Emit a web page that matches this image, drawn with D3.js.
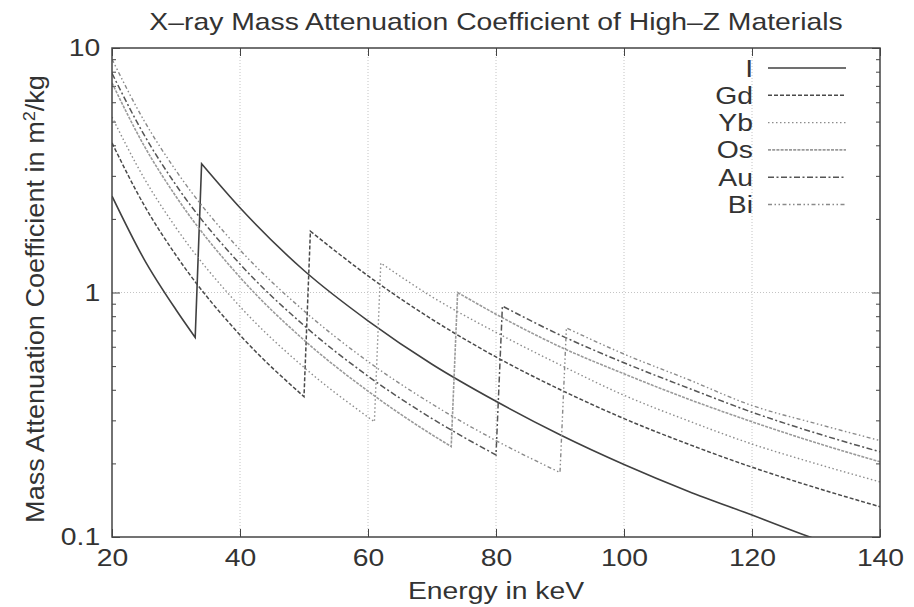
<!DOCTYPE html>
<html>
<head>
<meta charset="utf-8">
<script src="https://cdn.jsdelivr.net/npm/d3@7"></script>
<style>
  body { margin: 0; background: #fff; }
  svg text { font-family: "Liberation Sans", Arial, Helvetica, sans-serif; fill: #333; }
</style>
</head>
<body>
<div id="container"></div>
<script>
/* DATA (mass attenuation coefficient, m^2/kg) */
const elements = ["I", "Gd", "Yb", "Os", "Au", "Bi"];

const energyI = [20, 25, 30, 33, 34, 40, 50, 60, 70, 80, 90, 100, 110, 120, 130, 140];
const muI     = [2.48, 1.37, 0.85, 0.655, 3.36, 2.22, 1.23, 0.766, 0.509, 0.359, 0.262, 0.198, 0.154, 0.123, 0.098, 0.081];

const energyGd = [20, 25, 30, 40, 50, 51, 60, 70, 80, 90, 100, 110, 120, 130, 140];
const muGd     = [4.09, 2.28, 1.42, 0.670, 0.375, 1.78, 1.17, 0.777, 0.545, 0.401, 0.305, 0.240, 0.193, 0.159, 0.133];

const energyYb = [20, 25, 30, 40, 50, 61, 62, 70, 80, 90, 100, 110, 120, 130, 140];
const muYb     = [5.22, 2.94, 1.84, 0.876, 0.494, 0.296, 1.32, 0.96, 0.687, 0.506, 0.38, 0.299, 0.24, 0.1995, 0.168];

const energyOs = [20, 25, 30, 40, 50, 60, 70, 73, 74, 80, 90, 100, 110, 120, 130, 140];
const muOs     = [7.2, 3.99, 2.47, 1.154, 0.639, 0.395, 0.262, 0.2345, 1.0, 0.815, 0.60, 0.465, 0.367, 0.296, 0.243, 0.203];

const energyAu = [20, 25, 30, 40, 50, 60, 70, 80, 81, 90, 100, 110, 120, 130, 140];
const muAu     = [7.88, 4.42, 2.75, 1.307, 0.733, 0.455, 0.305, 0.2165, 0.88, 0.67, 0.516, 0.407, 0.324, 0.266, 0.223];

const energyBi = [20, 25, 30, 40, 50, 60, 70, 80, 90, 91, 100, 110, 120, 130, 140];
const muBi     = [9.0, 5.05, 3.15, 1.494, 0.841, 0.522, 0.350, 0.248, 0.1836, 0.716, 0.56, 0.441, 0.345, 0.291, 0.248];

const xTicks = [20, 40, 60, 80, 100, 120, 140];
const yTicks = [0.1, 1, 10];
const yTickLabels = ["0.1", "1", "10"];

/* CONSTANTS AND GLOBALS */
const width = 914, height = 607;
const plotLeft = 112, plotRight = 880, plotTop = 48, plotBottom = 537;
const sx = 1.18;   // the reference text is a bit wider than Liberation Sans

const series = [
  {key: "I",  energy: energyI,  mu: muI,  color: "#404040", dash: null,                    w: 1.6},
  {key: "Gd", energy: energyGd, mu: muGd, color: "#4a4a4a", dash: "4,2",                  w: 1.5},
  {key: "Yb", energy: energyYb, mu: muYb, color: "#8c8c8c", dash: "1.5,2.5",              w: 1.4},
  {key: "Os", energy: energyOs, mu: muOs, color: "#9a9a9a", dash: "3,1.2",                w: 1.6},
  {key: "Au", energy: energyAu, mu: muAu, color: "#555555", dash: "6,2.5,2,2.5",          w: 1.5},
  {key: "Bi", energy: energyBi, mu: muBi, color: "#8a8a8a", dash: "4,2.5,1.5,2.5,1.5,2.5", w: 1.4}
];

const xScale = d3.scaleLinear().domain([20, 140]).range([plotLeft, plotRight]);
const yScale = d3.scaleLog().domain([0.1, 10]).range([plotBottom, plotTop]);

const svg = d3.select("#container")
  .append("svg")
  .attr("width", width)
  .attr("height", height);

svg.append("defs").append("clipPath")
  .attr("id", "plot")
  .append("rect")
  .attr("x", plotLeft).attr("y", plotTop)
  .attr("width", plotRight - plotLeft).attr("height", plotBottom - plotTop);

// + GRID
const grid = svg.append("g")
  .attr("stroke", "#c4c4c4")
  .attr("stroke-width", 1)
  .attr("stroke-dasharray", "1,2");
grid.selectAll(".gx")
  .data(xTicks.slice(1, -1))
  .join("line")
  .attr("x1", d => xScale(d)).attr("x2", d => xScale(d))
  .attr("y1", plotTop).attr("y2", plotBottom);
grid.append("line")
  .attr("x1", plotLeft).attr("x2", plotRight)
  .attr("y1", yScale(1)).attr("y2", yScale(1));

// + AXES (ticks point inward, like gnuplot)
const minorY = [];
[0.1, 1].forEach(dec => d3.range(2, 10).forEach(m => minorY.push(dec * m)));

const styleAxis = g => {
  g.select(".domain").remove();
  g.selectAll(".tick line").attr("stroke", "#444");
  g.selectAll("text")
    .style("font-size", "24px")
    .attr("fill", "#333");
};

svg.append("g")
  .attr("transform", `translate(0,${plotBottom})`)
  .call(d3.axisBottom(xScale).tickValues(xTicks).tickSize(-8).tickPadding(12))
  .call(styleAxis)
  .call(g => g.selectAll("text").attr("transform", `scale(${sx},1)`));

svg.append("g")
  .attr("transform", `translate(0,${plotTop})`)
  .call(d3.axisTop(xScale).tickValues(xTicks).tickSize(-8).tickFormat(""))
  .call(styleAxis);

svg.append("g")
  .attr("transform", `translate(${plotLeft},0)`)
  .call(d3.axisLeft(yScale).tickValues(yTicks).tickSize(-8).tickPadding(10)
    .tickFormat((d, i) => yTickLabels[i]))
  .call(styleAxis)
  .call(g => g.selectAll("text").attr("transform", `scale(${sx},1)`));

svg.append("g")
  .attr("transform", `translate(${plotLeft},0)`)
  .call(d3.axisLeft(yScale).tickValues(minorY).tickSize(-4).tickFormat(""))
  .call(styleAxis);

svg.append("g")
  .attr("transform", `translate(${plotRight},0)`)
  .call(d3.axisRight(yScale).tickValues(yTicks).tickSize(-8).tickFormat(""))
  .call(styleAxis);

svg.append("g")
  .attr("transform", `translate(${plotRight},0)`)
  .call(d3.axisRight(yScale).tickValues(minorY).tickSize(-4).tickFormat(""))
  .call(styleAxis);

// + CURVES
const line = d3.line()
  .x(d => xScale(d[0]))
  .y(d => yScale(d[1]))
  .curve(d3.curveMonotoneX);

// smooth on each side of the absorption edge, straight jump across it
const pathFor = s => {
  const pts = s.energy.map((e, i) => [e, s.mu[i]]);
  const k = pts.findIndex((p, i) => i > 0 && p[1] > pts[i - 1][1]);
  if (k < 0) return line(pts);
  return line(pts.slice(0, k)) + line(pts.slice(k)).replace(/^M/, "L");
};

svg.append("g")
  .attr("clip-path", "url(#plot)")
  .selectAll("path")
  .data(series)
  .join("path")
  .attr("fill", "none")
  .attr("stroke", d => d.color)
  .attr("stroke-width", d => d.w)
  .attr("stroke-dasharray", d => d.dash)
  .attr("d", pathFor);

// + FRAME
svg.append("rect")
  .attr("x", plotLeft).attr("y", plotTop)
  .attr("width", plotRight - plotLeft).attr("height", plotBottom - plotTop)
  .attr("fill", "none")
  .attr("stroke", "#444")
  .attr("stroke-width", 1.5);

// + LEGEND
const legend = svg.append("g")
  .selectAll("g")
  .data(series)
  .join("g")
  .attr("transform", (d, i) => `translate(0,${68 + i * 27.3})`);

legend.append("text")
  .attr("transform", `translate(753,8.5) scale(${sx},1)`)
  .attr("text-anchor", "end")
  .style("font-size", "24px")
  .text(d => d.key);

legend.append("line")
  .attr("x1", 768).attr("x2", 846)
  .attr("stroke", d => d.color)
  .attr("stroke-width", d => d.w)
  .attr("stroke-dasharray", d => d.dash);

// + TITLES
svg.append("text")
  .attr("transform", `translate(496,30) scale(${sx},1)`)
  .attr("text-anchor", "middle")
  .style("font-size", "24px")
  .text("X\u2013ray Mass Attenuation Coefficient of High\u2013Z Materials");

svg.append("text")
  .attr("transform", `translate(496,599) scale(${sx},1)`)
  .attr("text-anchor", "middle")
  .style("font-size", "24px")
  .text("Energy in keV");

const yLabel = svg.append("text")
  .attr("transform", `translate(44,299) rotate(-90) scale(1.13,1.05)`)
  .attr("text-anchor", "middle")
  .style("font-size", "24px");
yLabel.append("tspan").text("Mass Attenuation Coefficient in m");
yLabel.append("tspan").attr("dy", -9).style("font-size", "16px").text("2");
yLabel.append("tspan").attr("dy", 9).text("/kg");
</script>
</body>
</html>
